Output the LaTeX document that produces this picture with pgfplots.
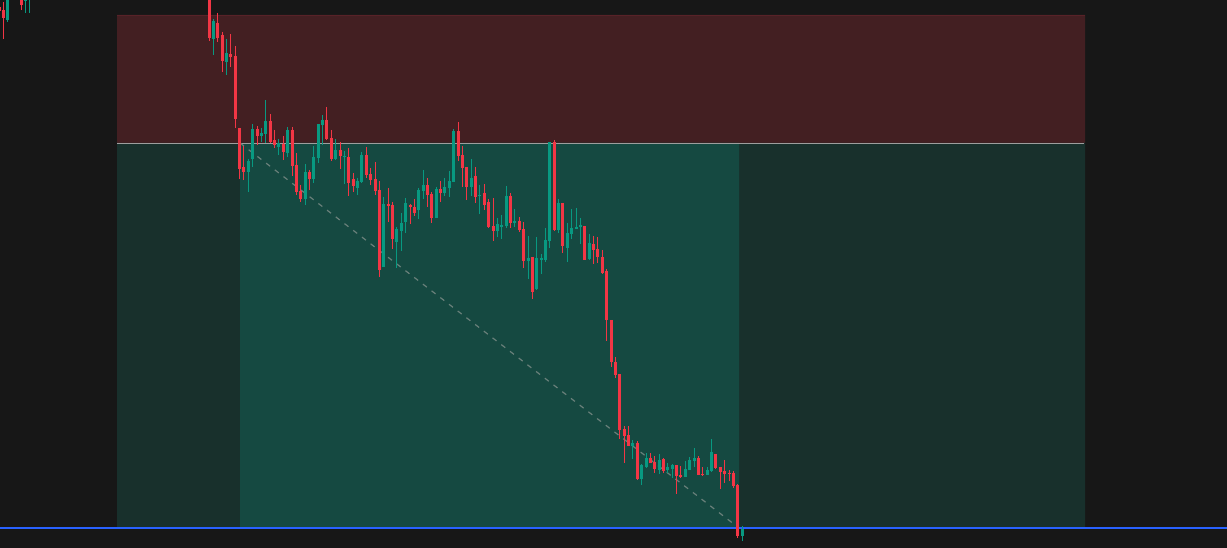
\documentclass[border=0pt]{standalone}
\usepackage{pgfplots}
\usepackage{pgfplotstable}
\pgfplotsset{compat=1.18}
\definecolor{bg}{RGB}{23,23,23}
\definecolor{redzone}{RGB}{67,31,34}
\definecolor{redzoneedge}{RGB}{88,34,40}
\definecolor{gzdark}{RGB}{24,48,44}
\definecolor{gzlight}{RGB}{21,73,65}
\definecolor{cred}{RGB}{242,54,69}
\definecolor{cgreen}{RGB}{8,153,129}
\definecolor{midline}{RGB}{158,158,158}
\definecolor{dashc}{RGB}{105,128,122}
\definecolor{bline}{RGB}{41,98,255}

\pgfplotstableread{
k bt bb wt wb
-48 7 11 5 12
-47 10 18 2 39
-43 -3 5 -5 10
0 -20 38 -25 41
2 23 38 13 42
3 35 61 32 72
5 54 57 34 67
6 56 119 46 128
7 128 169 128 179
8 167 172 146 180
11 129 136 126 145
14 121 142 114 143
15 140 145 130 148
17 144 152 136 160
19 130 166 127 176
20 165 192 153 195
21 191 199 185 202
23 172 179 170 190
27 120 139 107 140
28 138 159 130 161
30 150 156 142 169
32 157 183 148 196
33 179 186 173 192
36 155 175 147 178
37 174 180 168 185
38 179 191 162 195
39 190 270 181 277
41 204 206 188 222
42 205 239 202 249
46 205 207 204 224
47 207 213 199 216
50 185 195 178 207
51 194 218 192 223
53 189 193 181 202
57 131 156 122 161
58 155 168 146 187
59 167 187 167 200
61 176 197 167 203
63 193 205 184 210
64 202 227 199 228
65 226 231 198 241
69 196 223 193 228
71 221 230 217 232
72 229 261 222 268
74 257 292 257 299
79 142 230 140 231
81 203 246 203 253
86 226 260 226 260
88 244 250 236 264
89 249 257 237 263
90 257 273 250 274
91 271 320 269 341
92 320 362 320 367
93 362 375 357 378
94 374 430 374 439
95 429 436 426 463
96 435 446 426 446
98 443 479 441 480
101 458 463 453 463
102 462 469 456 473
104 459 471 458 473
107 465 476 465 494
108 475 477 466 478
112 458 475 456 475
113 474 475 467 476
116 454 468 454 469
117 467 472 467 489
118 471 474 460 483
119 473 474 470 481
120 473 486 471 488
121 485 536 484 538
}\redtab

\pgfplotstableread{
k bt bb wt wb
-46 -5 20 -10 22
-42 -1 1 -5 13
-41 -10 -2 -12 13
1 21 39 19 55
4 53 62 39 75
9 161 172 159 192
10 129 159 124 167
12 133 136 128 142
13 121 134 100 143
16 143 147 139 155
18 130 153 127 157
22 172 199 164 205
24 157 179 146 183
25 124 158 124 163
26 120 125 115 145
29 150 159 139 160
31 156 157 151 184
34 181 188 178 195
35 155 182 152 183
40 204 267 197 267
43 229 242 227 268
44 223 231 213 251
45 203 222 198 233
48 190 210 188 219
49 185 191 170 199
52 189 218 187 218
54 187 193 178 196
55 181 188 171 197
56 131 182 129 182
60 178 187 159 196
62 195 196 185 214
66 224 231 218 237
67 225 227 215 239
68 196 226 186 228
70 221 223 209 227
73 258 261 236 279
75 258 289 237 290
76 258 260 254 274
77 240 260 228 262
78 142 241 142 248
80 203 230 199 233
82 233 248 223 262
83 228 234 209 239
84 227 229 208 229
85 225 227 218 244
87 243 259 234 260
97 443 446 440 459
99 465 479 464 485
100 458 467 453 468
103 460 470 454 474
105 467 470 463 473
106 465 469 464 478
109 469 477 461 477
110 460 470 457 470
111 458 461 448 467
114 470 475 467 475
115 452 471 439 472
122 529 536 526 541
}\greentab

\begin{document}
\begin{tikzpicture}
\begin{axis}[
  width=1227pt, height=548pt, scale only axis,
  xmin=0, xmax=1227, ymin=0, ymax=548, y dir=reverse,
  axis line style={draw=none}, xtick=\empty, ytick=\empty,
  axis background/.style={fill=bg},
  clip=true,
]
% zones
\addplot[fill=redzone, draw=none, forget plot] coordinates {(117,15) (1085,15) (1085,143) (117,143) (117,15)};
\addplot[fill=gzdark, draw=none, forget plot] coordinates {(117,143) (1085,143) (1085,528) (117,528) (117,143)};
\addplot[fill=gzlight, draw=none, forget plot] coordinates {(240,143) (739,143) (739,528) (240,528) (240,143)};
\addplot[redzoneedge, line width=1pt, forget plot] coordinates {(117,15.5) (1085,15.5)};
\addplot[midline, line width=1pt, forget plot] coordinates {(117,143.5) (1084,143.5)};
% dashed trend line
\addplot[dashc, line width=1.2pt, dash pattern=on 5pt off 6pt, forget plot] coordinates {(240,143) (739,528)};
% blue line
\addplot[bline, line width=1.4pt, forget plot] coordinates {(0,528) (1227,528)};
% wicks
\addplot[cred, line width=1pt, mark=none, quiver={u=0, v=\thisrow{wb}-\thisrow{wt}}] table[x expr=209+4.37*\thisrow{k}, y=wt] {\redtab};
\addplot[cgreen, line width=1pt, mark=none, quiver={u=0, v=\thisrow{wb}-\thisrow{wt}}] table[x expr=209+4.37*\thisrow{k}, y=wt] {\greentab};
% bodies
\addplot[cred, line width=3pt, line cap=butt, mark=none, quiver={u=0, v=\thisrow{bb}-\thisrow{bt}}] table[x expr=209+4.37*\thisrow{k}, y=bt] {\redtab};
\addplot[cgreen, line width=3pt, line cap=butt, mark=none, quiver={u=0, v=\thisrow{bb}-\thisrow{bt}}] table[x expr=209+4.37*\thisrow{k}, y=bt] {\greentab};
\end{axis}
\end{tikzpicture}
\end{document}
